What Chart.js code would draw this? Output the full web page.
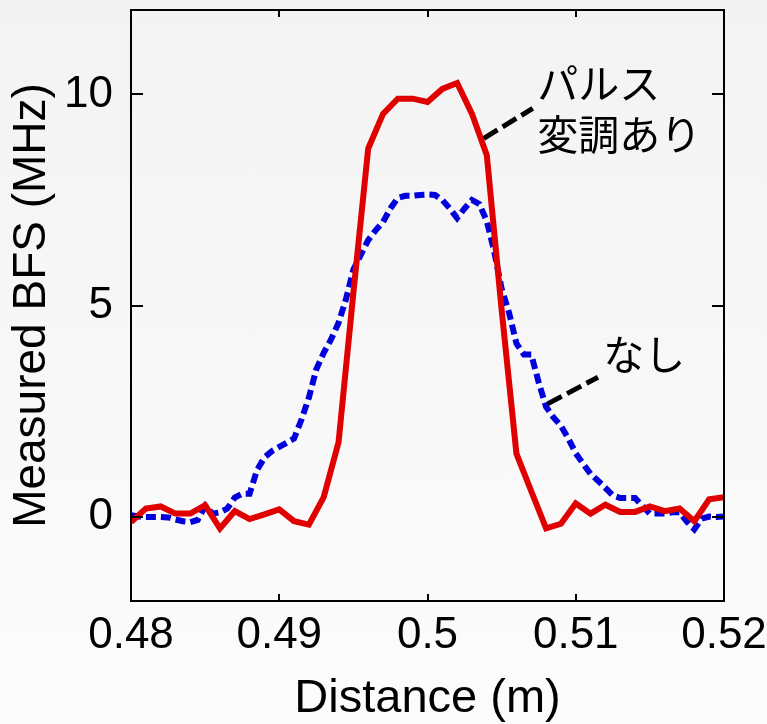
<!DOCTYPE html>
<html>
<head>
<meta charset="utf-8">
<script src="https://cdn.jsdelivr.net/npm/chart.js@4.4.1/dist/chart.umd.min.js"></script>
<style>
  html, body { margin: 0; padding: 0; }
  body { width: 767px; height: 724px; overflow: hidden; background: linear-gradient(#f3f3f3, #fcfcfc); }
  canvas { display: block; }
</style>
</head>
<body>
<canvas id="bfs" width="767" height="724"></canvas>
<script>
// Distance along the fibre (m) and measured Brillouin frequency shift (MHz)
const distPulse = [
  0.480, 0.481, 0.482, 0.483, 0.484, 0.485, 0.486, 0.487, 0.488, 0.489,
  0.490, 0.491, 0.492, 0.493, 0.494, 0.495, 0.496, 0.497, 0.498, 0.499,
  0.500, 0.501, 0.502, 0.503, 0.504, 0.505, 0.506, 0.507, 0.508, 0.509,
  0.510, 0.511, 0.512, 0.513, 0.514, 0.515, 0.516, 0.517, 0.518, 0.519,
  0.520
];
const bfsPulse = [
  -0.13, 0.19, 0.24, 0.07, 0.07, 0.27, -0.28, 0.13, -0.06, 0.05,
  0.17, -0.11, -0.19, 0.46, 1.76, 5.3, 8.72, 9.54, 9.9, 9.9,
  9.82, 10.13, 10.27, 9.54, 8.56, 4.9, 1.49, 0.6, -0.28, -0.17,
  0.31, 0.07, 0.28, 0.11, 0.11, 0.24, 0.13, 0.19, -0.11, 0.41,
  0.46
];

const distPlain = [
  0.4800, 0.4805, 0.4810, 0.4815, 0.4820, 0.4825, 0.4830, 0.4835, 0.4840, 0.4845,
  0.4850, 0.4855, 0.4860, 0.4865, 0.4870, 0.4875, 0.4880, 0.4885, 0.4890, 0.4895,
  0.4900, 0.4905, 0.4910, 0.4915, 0.4920, 0.4925, 0.4930, 0.4935, 0.4940, 0.4945,
  0.4950, 0.4955, 0.4960, 0.4965, 0.4970, 0.4975, 0.4980, 0.4985, 0.4990, 0.4995,
  0.5000, 0.5005, 0.5010, 0.5015, 0.5020, 0.5025, 0.5030, 0.5035, 0.5040, 0.5045,
  0.5050, 0.5055, 0.5060, 0.5065, 0.5070, 0.5075, 0.5080, 0.5085, 0.5090, 0.5095,
  0.5100, 0.5105, 0.5110, 0.5115, 0.5120, 0.5125, 0.5130, 0.5135, 0.5140, 0.5145,
  0.5150, 0.5155, 0.5160, 0.5165, 0.5170, 0.5175, 0.5180, 0.5185, 0.5190, 0.5195,
  0.5200
];
const bfsPlain = [
  0.03, 0.0, -0.01, -0.01, -0.01, -0.02, -0.07, -0.11, -0.13, -0.08,
  0.25, 0.07, 0.1, 0.19, 0.45, 0.54, 0.54, 1.1, 1.4, 1.55,
  1.65, 1.75, 1.85, 2.3, 2.82, 3.49, 3.88, 4.2, 4.59, 5.15,
  5.85, 6.2, 6.55, 6.78, 6.98, 7.3, 7.55, 7.6, 7.6, 7.62,
  7.63, 7.62, 7.5, 7.3, 7.07, 7.3, 7.5, 7.4, 7.0, 6.28,
  5.4, 4.83, 4.1, 3.84, 3.84, 3.18, 2.6, 2.35, 2.15, 1.85,
  1.5, 1.25, 1.01, 0.85, 0.68, 0.5, 0.44, 0.44, 0.44, 0.25,
  0.07, 0.07, 0.07, 0.1, 0.1, -0.12, -0.3, -0.05, 0.0, -0.01,
  0.0
];

const xTickValues = [0.48, 0.49, 0.50, 0.51, 0.52];
const xTickLabels = ['0.48', '0.49', '0.5', '0.51', '0.52'];
const yTickValues = [0, 5, 10];
const yTickLabels = ['0', '5', '10'];

const pulseLabel = ['パルス', '変調あり'];
const plainLabel = ['なし'];

const toPoints = (xs, ys) => xs.map((x, i) => ({ x, y: ys[i] }));

// Callout placement, in data units
const callouts = [
  { lines: pulseLabel, textAt: [0.5074, 10.27], lineGap: 1.22, leader: [[0.5038, 8.96], [0.5071, 9.67]] },
  { lines: plainLabel, textAt: [0.51185, 3.84], lineGap: 0, leader: [[0.5081, 2.67], [0.5115, 3.30]] }
];

const sans = '"Liberation Sans", Arial, Helvetica, sans-serif';
const cjk = '"Noto Sans CJK JP", "Noto Sans CJK SC", sans-serif';

// Boxed frame with inward major/minor ticks on all four sides
const framePlugin = {
  id: 'frameTicks',
  afterDatasetsDraw(chart) {
    const { ctx, chartArea: a, scales: { x, y } } = chart;
    ctx.save();
    ctx.strokeStyle = '#000';
    ctx.lineWidth = 2;
    ctx.lineCap = 'butt';
    const seg = (x1, y1, x2, y2) => { ctx.beginPath(); ctx.moveTo(x1, y1); ctx.lineTo(x2, y2); ctx.stroke(); };
    x.ticks.forEach((t, i) => {
      const px = Math.round(x.getPixelForValue(t.value));
      const len = i % 5 === 0 ? 12 : 7;
      seg(px, a.bottom, px, a.bottom - len);
      seg(px, a.top, px, a.top + len);
    });
    y.ticks.forEach(t => {
      const py = Math.round(y.getPixelForValue(t.value));
      const len = Math.round(t.value) % 5 === 0 ? 12 : 7;
      seg(a.left, py, a.left + len, py);
      seg(a.right, py, a.right - len, py);
    });
    ctx.strokeRect(a.left, a.top, a.right - a.left, a.bottom - a.top);
    ctx.restore();
  }
};

// Text callouts with dashed leader lines
const calloutPlugin = {
  id: 'callouts',
  afterDraw(chart) {
    const { ctx, scales: { x, y } } = chart;
    ctx.save();
    callouts.forEach(c => {
      const [p0, p1] = c.leader;
      ctx.strokeStyle = '#000';
      ctx.lineWidth = 5;
      ctx.setLineDash([16, 6]);
      ctx.beginPath();
      ctx.moveTo(x.getPixelForValue(p0[0]), y.getPixelForValue(p0[1]));
      ctx.lineTo(x.getPixelForValue(p1[0]), y.getPixelForValue(p1[1]));
      ctx.stroke();
      ctx.setLineDash([]);
      ctx.fillStyle = '#000';
      ctx.font = '41px ' + cjk;
      ctx.textAlign = 'left';
      ctx.textBaseline = 'middle';
      c.lines.forEach((s, i) => {
        ctx.fillText(s, x.getPixelForValue(c.textAt[0]), y.getPixelForValue(c.textAt[1] - i * c.lineGap));
      });
    });
    ctx.restore();
  }
};

new Chart(document.getElementById('bfs'), {
  type: 'line',
  data: {
    datasets: [
      {
        label: 'パルス変調あり',
        data: toPoints(distPulse, bfsPulse),
        borderColor: '#e00000',
        borderWidth: 6,
        pointRadius: 0,
        tension: 0,
        fill: false
      },
      {
        label: 'なし',
        data: toPoints(distPlain, bfsPlain),
        borderColor: '#0000dd',
        borderWidth: 6,
        borderDash: [10, 5],
        pointRadius: 0,
        tension: 0,
        fill: false
      }
    ]
  },
  options: {
    responsive: false,
    animation: false,
    devicePixelRatio: 1,
    layout: { padding: { top: 10, right: 43, left: 0, bottom: 0 } },
    plugins: { legend: { display: false }, tooltip: { enabled: false } },
    scales: {
      x: {
        type: 'linear',
        min: 0.48,
        max: 0.52,
        grid: { display: false, drawTicks: false },
        border: { display: false },
        afterBuildTicks(s) {
          const t = [];
          for (let i = 0; i <= 20; i++) t.push({ value: 0.48 + i * 0.002 });
          s.ticks = t;
        },
        ticks: {
          autoSkip: false,
          maxRotation: 0,
          padding: 13,
          color: '#000',
          font: { family: sans, size: 44, lineHeight: 1 },
          callback(v, i) { return i % 5 === 0 ? xTickLabels[i / 5] : null; }
        },
        title: {
          display: true,
          text: 'Distance (m)',
          color: '#000',
          font: { family: sans, size: 47, lineHeight: 1.05 },
          padding: { top: 0, bottom: 0 }
        },
        afterFit(s) {
          s.height = 123;
          s.paddingLeft = 0;
          s.paddingRight = 0;
        }
      },
      y: {
        type: 'linear',
        min: -2,
        max: 12,
        grid: { display: false, drawTicks: false },
        border: { display: false },
        afterBuildTicks(s) {
          const t = [];
          for (let v = -2; v <= 12; v++) t.push({ value: v });
          s.ticks = t;
        },
        ticks: {
          autoSkip: false,
          padding: 18,
          color: '#000',
          font: { family: sans, size: 44, lineHeight: 1 },
          callback(v) {
            const k = yTickValues.indexOf(Math.round(v));
            return k >= 0 ? yTickLabels[k] : null;
          }
        },
        title: {
          display: true,
          text: 'Measured BFS (MHz)',
          color: '#000',
          font: { family: sans, size: 46, lineHeight: 1.2 },
          padding: { top: 5, bottom: 0 }
        },
        afterFit(s) {
          s.width = 131;
          s.paddingTop = 0;
          s.paddingBottom = 0;
        }
      }
    }
  },
  plugins: [framePlugin, calloutPlugin]
});
</script>
</body>
</html>
